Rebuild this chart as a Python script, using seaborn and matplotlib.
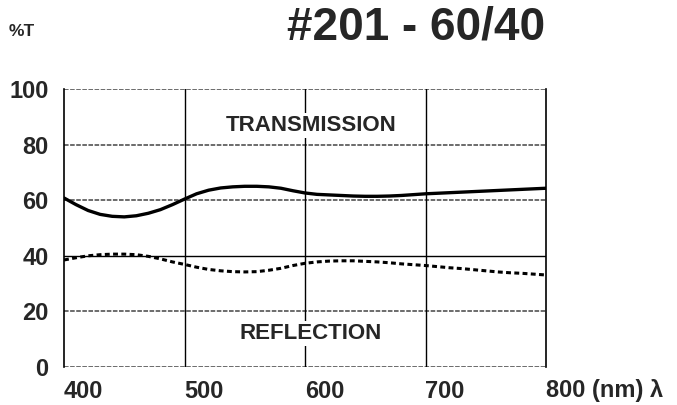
import numpy as np
import pandas as pd
import matplotlib
matplotlib.use("Agg")
import matplotlib.pyplot as plt
import seaborn as sns

wavelength = [400, 410, 420, 430, 440, 450, 460, 470, 480, 490, 500,
              510, 520, 530, 540, 550, 560, 570, 580, 590, 600,
              610, 620, 630, 640, 650, 660, 670, 680, 690, 700,
              710, 720, 730, 740, 750, 760, 770, 780, 790, 800]
transmission = [60.8, 58.4, 56.3, 54.9, 54.2, 54.0, 54.4, 55.3, 56.6, 58.4, 60.4,
                62.3, 63.6, 64.4, 64.8, 65.0, 65.0, 64.8, 64.3, 63.4, 62.6,
                62.1, 61.9, 61.7, 61.5, 61.4, 61.4, 61.5, 61.7, 62.0, 62.3,
                62.5, 62.7, 62.9, 63.1, 63.3, 63.5, 63.7, 63.9, 64.1, 64.3]
reflection = [38.5, 39.3, 40.0, 40.4, 40.6, 40.6, 40.4, 39.8, 38.9, 37.8, 36.9,
              35.9, 35.1, 34.6, 34.3, 34.2, 34.3, 34.8, 35.5, 36.5, 37.3,
              37.8, 38.1, 38.2, 38.2, 38.0, 37.8, 37.5, 37.1, 36.8, 36.5,
              36.1, 35.7, 35.4, 35.0, 34.6, 34.2, 33.9, 33.7, 33.4, 33.1]
x_ticks = [400, 500, 600, 700, 800]
x_labels = ["400", "500", "600", "700", "800 (nm) λ"]
y_ticks = [0, 20, 40, 60, 80, 100]

sns.set_style("white")
plt.rcParams['font.family'] = ['Liberation Sans', 'DejaVu Sans']

df = pd.DataFrame({"wl": wavelength, "T": transmission, "R": reflection})

fig = plt.figure(figsize=(6.77, 4.05), dpi=100)
ax = fig.add_axes([64/677, 38/405, 482/677, 278/405])

# grid
for yv in y_ticks:
    if yv == 40:
        ax.axhline(yv, color="black", lw=1.0, zorder=1)
    else:
        ax.axhline(yv, color="#444444", lw=1.1, ls=(0, (3, 1)), zorder=1)
for xv in x_ticks[1:-1]:
    ax.axvline(xv, color="black", lw=1.0, zorder=1)

sns.lineplot(data=df, x="wl", y="T", ax=ax, color="black", lw=2.4, zorder=3)
sns.lineplot(data=df, x="wl", y="R", ax=ax, color="black", lw=2.2,
             linestyle=(0, (1.6, 1.1)), zorder=3)

ax.set_xlim(400, 800)
ax.set_ylim(0, 100)
ax.set_xlabel("")
ax.set_ylabel("")
ax.set_xticks(x_ticks)
ax.set_xticklabels(x_labels, fontsize=17, fontweight="bold", ha="left")
ax.set_yticks(y_ticks)
ax.set_yticklabels([str(v) for v in y_ticks], fontsize=17, fontweight="bold")
ax.tick_params(axis="x", length=0, pad=9)
ax.tick_params(axis="y", length=0, pad=11)

for side in ["top", "bottom"]:
    ax.spines[side].set_visible(False)
for side in ["left", "right"]:
    ax.spines[side].set_color("black")
    ax.spines[side].set_linewidth(1.2)

ax.text(605, 87, "TRANSMISSION", fontsize=16, fontweight="bold", ha="center",
        va="center", zorder=4,
        bbox=dict(facecolor="white", edgecolor="none", pad=1.5))
ax.text(605, 12, "REFLECTION", fontsize=16, fontweight="bold", ha="center",
        va="center", zorder=4,
        bbox=dict(facecolor="white", edgecolor="none", pad=1.5))

fig.text(416/677, 1 - 27/405, "#201 - 60/40", fontsize=33, fontweight="bold",
         ha="center", va="center")
fig.text(9/677, 1 - 32/405, "%T", fontsize=12.5, fontweight="bold",
         ha="left", va="center")

fig.savefig("out.png", dpi=100, facecolor="white")
